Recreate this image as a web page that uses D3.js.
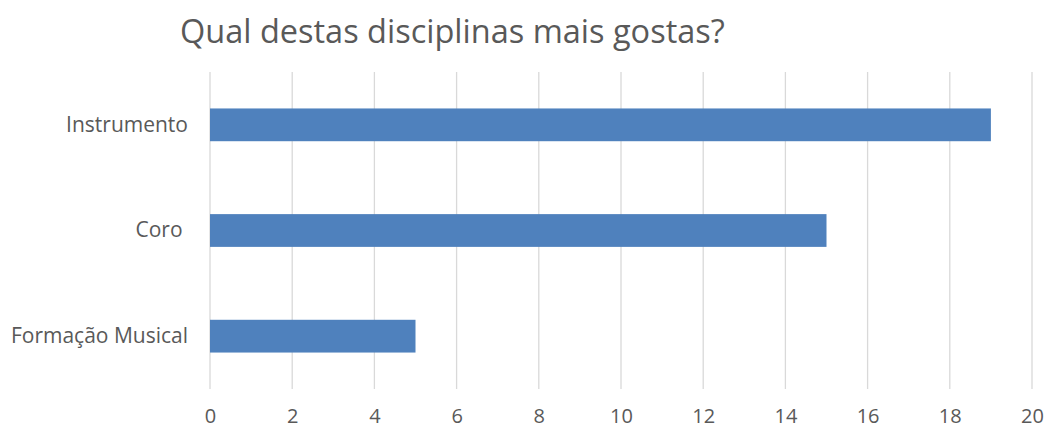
<!DOCTYPE html>
<html>
<head>
<meta charset="utf-8">
<style>
  body { margin: 0; background: #fff; }
  text { font-family: "Open Sans", "Liberation Sans", sans-serif; fill: #595959; white-space: pre; }
</style>
</head>
<body>
<div id="chart"></div>
<script src="https://d3js.org/d3.v7.min.js"></script>
<script>
  const categories = ["Instrumento", "Coro ", "Formação Musical"]
  const values = [19, 15, 5]
  const xTicks = [0, 2, 4, 6, 8, 10, 12, 14, 16, 18, 20]
  const title = "Qual destas disciplinas mais gostas?"

  const width = 1044, height = 430
  const margin = { top: 72, right: 12, bottom: 41, left: 210 }

  const svg = d3.select("#chart").append("svg")
    .attr("width", width)
    .attr("height", height)

  const x = d3.scaleLinear()
    .domain([0, 20])
    .range([margin.left, width - margin.right])

  const y = d3.scaleBand()
    .domain(categories)
    .range([margin.top, height - margin.bottom])
    .paddingInner(0.69)
    .paddingOuter(0.345)

  // gridlines
  svg.append("g")
    .selectAll("line")
    .data(xTicks)
    .enter().append("line")
    .attr("x1", d => x(d)).attr("x2", d => x(d))
    .attr("y1", margin.top).attr("y2", height - margin.bottom)
    .attr("stroke", "#d9d9d9")
    .attr("stroke-width", 1.3)

  // bars
  svg.append("g")
    .selectAll("rect")
    .data(categories)
    .enter().append("rect")
    .attr("x", x(0))
    .attr("y", d => y(d))
    .attr("width", (d, i) => x(values[i]) - x(0))
    .attr("height", y.bandwidth())
    .attr("fill", "#4f81bd")

  // x axis labels
  const xAxis = svg.append("g")
    .attr("transform", `translate(0,${height - margin.bottom + 8})`)
    .call(d3.axisBottom(x).tickValues(xTicks).tickSize(0).tickPadding(12))
  xAxis.select(".domain").remove()
  xAxis.selectAll("text").style("font-size", "20px").attr("fill", "#595959")
    .style("font-family", "'Open Sans', sans-serif")

  // y axis labels
  const yAxis = svg.append("g")
    .attr("transform", `translate(${margin.left - 22},0)`)
    .call(d3.axisLeft(y).tickSize(0).tickPadding(0))
  yAxis.select(".domain").remove()
  yAxis.selectAll("text").style("font-size", "21px").attr("fill", "#595959")
    .style("font-family", "'Open Sans', sans-serif")
    .style("white-space", "pre")

  svg.append("text")
    .attr("x", 180)
    .attr("y", 43)
    .style("font-size", "32.5px")
    .text(title)
</script>
</body>
</html>
